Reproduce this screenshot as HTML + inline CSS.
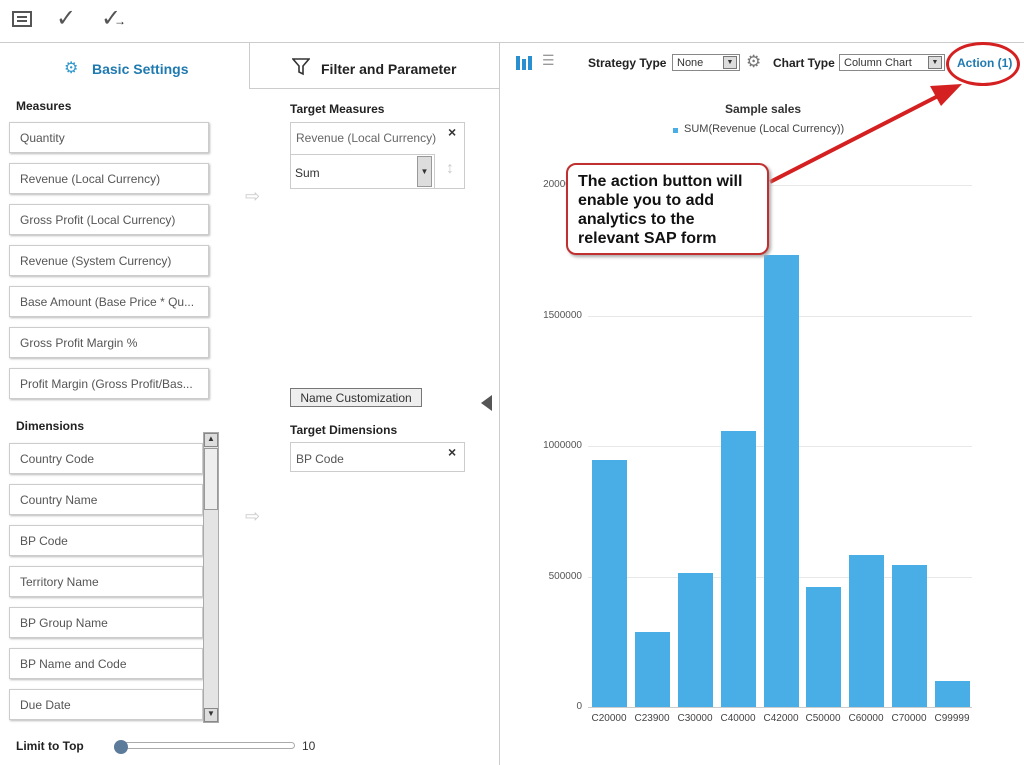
<!DOCTYPE html>
<html><head><meta charset="utf-8"><style>
*{margin:0;padding:0;box-sizing:border-box}
body{width:1024px;height:765px;background:#fff;font-family:"Liberation Sans",sans-serif;position:relative;overflow:hidden;color:#333}
.a{position:absolute}
.box{position:absolute;left:9px;width:200px;height:31px;border:1px solid #ccc;box-shadow:1px 1px 2px #bbb;font-size:12px;color:#555;padding:8px 0 0 10px;background:#fff;white-space:nowrap;overflow:hidden}
.dbox{width:194px}
.h{font-weight:bold;font-size:12px;color:#222}
.yl{position:absolute;font-size:10px;color:#555;text-align:right;width:50px;left:532px}
.bar{position:absolute;background:#4aaee6;width:35px}
.xl{position:absolute;top:713px;font-size:10px;color:#444;width:44px;text-align:center}
.grid{position:absolute;left:588px;width:384px;height:1px;background:#e8e8e8}
</style></head><body>
<!-- toolbar -->
<div class="a" style="left:12px;top:11px;width:20px;height:16px;border:2px solid #555"></div>
<div class="a" style="left:17px;top:16px;width:10px;height:2px;background:#555"></div>
<div class="a" style="left:17px;top:20px;width:10px;height:2px;background:#555"></div>
<div class="a" style="left:56px;top:4px;font-size:24px;color:#555">✓</div>
<div class="a" style="left:101px;top:4px;font-size:24px;color:#555">✓</div>
<div class="a" style="left:114px;top:14px;font-size:12px;color:#222">→</div>
<div class="a" style="left:0;top:42px;width:1024px;height:1px;background:#ccc"></div>
<div class="a" style="left:499px;top:42px;width:1px;height:723px;background:#ccc"></div>
<!-- tabs -->
<div class="a" style="left:64px;top:58px;font-size:16px;color:#3399cc">⚙</div>
<div class="a" style="left:92px;top:61px;font-size:14px;font-weight:bold;color:#1f7ab0">Basic Settings</div>
<div class="a" style="left:249px;top:43px;width:250px;height:46px;border-left:1px solid #ccc;border-bottom:1px solid #ccc"></div>
<svg class="a" style="left:292px;top:58px" width="18" height="18"><path d="M1 1 H17 L11 8 V16 L7 14 V8 Z" fill="none" stroke="#333" stroke-width="1.6"/></svg>
<div class="a" style="left:321px;top:61px;font-size:14px;font-weight:bold;color:#222">Filter and Parameter</div>
<!-- measures -->
<div class="a h" style="left:16px;top:99px">Measures</div>
<div class="box" style="top:122px">Quantity</div>
<div class="box" style="top:163px">Revenue (Local Currency)</div>
<div class="box" style="top:204px">Gross Profit (Local Currency)</div>
<div class="box" style="top:245px">Revenue (System Currency)</div>
<div class="box" style="top:286px">Base Amount (Base Price * Qu...</div>
<div class="box" style="top:327px">Gross Profit Margin %</div>
<div class="box" style="top:368px">Profit Margin (Gross Profit/Bas...</div>
<div class="a h" style="left:16px;top:419px">Dimensions</div>
<div class="box dbox" style="top:443px">Country Code</div>
<div class="box dbox" style="top:484px">Country Name</div>
<div class="box dbox" style="top:525px">BP Code</div>
<div class="box dbox" style="top:566px">Territory Name</div>
<div class="box dbox" style="top:607px">BP Group Name</div>
<div class="box dbox" style="top:648px">BP Name and Code</div>
<div class="box dbox" style="top:689px">Due Date</div>
<div class="a" style="left:203px;top:432px;width:16px;height:291px;background:#e4e4e4;border:1px solid #aaa"></div>
<div class="a" style="left:204px;top:433px;width:14px;height:14px;background:#ddd;border:1px solid #888;font-size:8px;text-align:center">▲</div>
<div class="a" style="left:204px;top:448px;width:14px;height:62px;background:#eee;border:1px solid #999"></div>
<div class="a" style="left:204px;top:708px;width:14px;height:14px;background:#ddd;border:1px solid #888;font-size:8px;text-align:center">▼</div>
<div class="a" style="left:245px;top:186px;color:#ccc;font-size:18px">⇨</div>
<div class="a" style="left:245px;top:506px;color:#ccc;font-size:18px">⇨</div>
<div class="a h" style="left:16px;top:739px">Limit to Top</div>
<div class="a" style="left:120px;top:742px;width:175px;height:7px;border:1px solid #aaa;border-radius:4px"></div>
<div class="a" style="left:114px;top:740px;width:14px;height:14px;border-radius:7px;background:#5c7a99"></div>
<div class="a" style="left:302px;top:739px;font-size:12px">10</div>
<!-- middle -->
<div class="a h" style="left:290px;top:102px">Target Measures</div>
<div class="a" style="left:290px;top:122px;width:175px;height:67px;border:1px solid #ccc"></div>
<div class="a" style="left:296px;top:131px;font-size:12px;color:#666">Revenue (Local Currency)</div>
<div class="a" style="left:448px;top:124px;font-size:14px;font-weight:bold">×</div>
<div class="a" style="left:290px;top:154px;width:145px;height:35px;border:1px solid #ccc;border-left:0"></div>
<div class="a" style="left:295px;top:166px;font-size:12px">Sum</div>
<div class="a" style="left:417px;top:156px;width:15px;height:31px;background:#ddd;border:1px solid #999;font-size:8px;padding-top:10px;text-align:center">▼</div>
<div class="a" style="left:446px;top:160px;color:#ccc;font-size:16px">↕</div>
<div class="a" style="left:290px;top:388px;width:132px;height:19px;border:1px solid #777;background:#eee;font-size:12px;text-align:center;padding-top:2px">Name Customization</div>
<div class="a" style="left:481px;top:395px;width:0;height:0;border-top:8px solid transparent;border-bottom:8px solid transparent;border-right:11px solid #555"></div>
<div class="a h" style="left:290px;top:423px">Target Dimensions</div>
<div class="a" style="left:290px;top:442px;width:175px;height:30px;border:1px solid #ccc;font-size:12px;color:#555;padding:9px 0 0 5px">BP Code</div>
<div class="a" style="left:448px;top:444px;font-size:14px;font-weight:bold">×</div>
<!-- right toolbar -->
<div class="a" style="left:516px;top:56px;width:4px;height:14px;background:#2a8fd0"></div>
<div class="a" style="left:522px;top:59px;width:4px;height:11px;background:#2a8fd0"></div>
<div class="a" style="left:528px;top:56px;width:4px;height:14px;background:#2a8fd0"></div>
<div class="a" style="left:542px;top:52px;font-size:14px;color:#999">☰</div>
<div class="a h" style="left:588px;top:56px">Strategy Type</div>
<div class="a" style="left:672px;top:54px;width:68px;height:17px;border:1px solid #888;font-size:11px;padding:2px 0 0 4px">None</div>
<div class="a" style="left:723px;top:56px;width:14px;height:13px;background:#ddd;border:1px solid #777;font-size:7px;text-align:center;padding-top:2px">▼</div>
<div class="a" style="left:746px;top:52px;font-size:17px;color:#777">⚙</div>
<div class="a h" style="left:773px;top:56px">Chart Type</div>
<div class="a" style="left:839px;top:54px;width:106px;height:17px;border:1px solid #888;font-size:11px;padding:2px 0 0 4px">Column Chart</div>
<div class="a" style="left:928px;top:56px;width:14px;height:13px;background:#ddd;border:1px solid #777;font-size:7px;text-align:center;padding-top:2px">▼</div>
<div class="a" style="left:957px;top:56px;font-size:12px;font-weight:bold;color:#1f7ab0">Action (1)</div>
<div class="a" style="left:946px;top:42px;width:74px;height:44px;border:3px solid #d42020;border-radius:50%"></div>
<!-- chart -->
<div class="a" style="left:725px;top:102px;font-size:12px;font-weight:bold;color:#333">Sample sales</div>
<div class="a" style="left:673px;top:128px;width:5px;height:5px;background:#4aaee6"></div>
<div class="a" style="left:684px;top:123px;font-size:11px;color:#444">SUM(Revenue (Local Currency))</div>
<div class="grid" style="top:185px"></div><div class="grid" style="top:316px"></div><div class="grid" style="top:446px"></div><div class="grid" style="top:577px"></div><div class="grid" style="top:707px;background:#ccc"></div>
<div class="yl" style="top:179px">2000000</div><div class="yl" style="top:310px">1500000</div><div class="yl" style="top:440px">1000000</div><div class="yl" style="top:571px">500000</div><div class="yl" style="top:701px">0</div>
<div class="bar" style="left:592px;top:460px;height:247px"></div>
<div class="bar" style="left:635px;top:632px;height:75px"></div>
<div class="bar" style="left:678px;top:573px;height:134px"></div>
<div class="bar" style="left:721px;top:431px;height:276px"></div>
<div class="bar" style="left:764px;top:255px;height:452px"></div>
<div class="bar" style="left:806px;top:587px;height:120px"></div>
<div class="bar" style="left:849px;top:555px;height:152px"></div>
<div class="bar" style="left:892px;top:565px;height:142px"></div>
<div class="bar" style="left:935px;top:681px;height:26px"></div>
<div class="xl" style="left:587px">C20000</div><div class="xl" style="left:630px">C23900</div><div class="xl" style="left:673px">C30000</div><div class="xl" style="left:716px">C40000</div><div class="xl" style="left:759px">C42000</div><div class="xl" style="left:801px">C50000</div><div class="xl" style="left:844px">C60000</div><div class="xl" style="left:887px">C70000</div><div class="xl" style="left:930px">C99999</div>
<!-- arrow -->
<svg class="a" style="left:0;top:0" width="1024" height="765"><line x1="770" y1="182" x2="940" y2="95" stroke="#d42020" stroke-width="4"/><polygon points="962,84 930,86 941,106" fill="#d42020"/></svg>
<div class="a" style="left:566px;top:163px;width:203px;height:92px;border:2px solid #c03030;border-radius:10px;background:#fff;box-shadow:2px 2px 3px #aaa;font-size:16px;font-weight:bold;color:#111;padding:7px 0 0 10px;line-height:19px;white-space:nowrap">The action button will<br>enable you to add<br>analytics to the<br>relevant SAP form</div>
</body></html>
